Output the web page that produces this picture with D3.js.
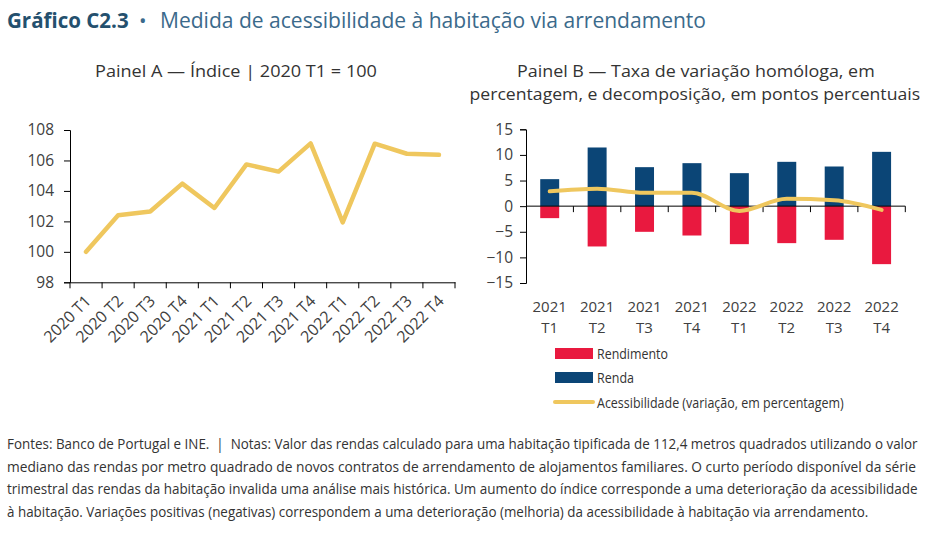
<!DOCTYPE html>
<html lang="pt">
<head>
<meta charset="utf-8">
<title>Gráfico C2.3</title>
<script src="https://cdn.jsdelivr.net/npm/d3@7"></script>
<style>
body { margin: 0; background: #fff; }
svg { display: block; font-family: "Open Sans", sans-serif; }
</style>
</head>
<body>
<script>
// dados
var trimA = ["2020 T1", "2020 T2", "2020 T3", "2020 T4", "2021 T1", "2021 T2",
             "2021 T3", "2021 T4", "2022 T1", "2022 T2", "2022 T3", "2022 T4"];
var indice = [100, 102.4, 102.65, 104.48, 102.88, 105.74, 105.27, 107.12, 101.93, 107.1, 106.44, 106.37];

var trimB = ["2021 T1", "2021 T2", "2021 T3", "2021 T4", "2022 T1", "2022 T2", "2022 T3", "2022 T4"];
var renda = [5.27, 11.45, 7.61, 8.39, 6.44, 8.65, 7.74, 10.6];
var rendimento = [-2.34, -7.87, -5.01, -5.73, -7.42, -7.22, -6.57, -11.32];
var acess = [2.9, 3.4, 2.6, 2.62, -0.95, 1.43, 1.17, -0.72];

var ticksA = [98, 100, 102, 104, 106, 108];
var ticksB = [-15, -10, -5, 0, 5, 10, 15];

var footnote = [
  "Fontes: Banco de Portugal e INE.  |  Notas: Valor das rendas calculado para uma habitação tipificada de 112,4 metros quadrados utilizando o valor",
  "mediano das rendas por metro quadrado de novos contratos de arrendamento de alojamentos familiares. O curto período disponível da série",
  "trimestral das rendas da habitação invalida uma análise mais histórica. Um aumento do índice corresponde a uma deterioração da acessibilidade",
  "à habitação. Variações positivas (negativas) correspondem a uma deterioração (melhoria) da acessibilidade à habitação via arrendamento."
];

var amarelo = "#efc75e", azul = "#0b4576", vermelho = "#e9193f";
var cinza = "#404040";

var svg = d3.select("body").append("svg")
  .attr("width", 930)
  .attr("height", 540);

// texto "condensado": escala horizontal para caber na largura pedida
// anchor: "start" (x = esquerda) ou "middle" (x = centro)
function condText(x, y, size, w, txt, anchor) {
  var g = svg.append("g");
  var t = g.append("text")
    .attr("x", 0).attr("y", 0)
    .attr("font-size", size + "px")
    .attr("fill", "#333")
    .attr("xml:space", "preserve")
    .text(txt);
  var nat = t.node().getComputedTextLength();
  var sx = w / nat;
  var x0 = anchor === "middle" ? x - w / 2 : x;
  g.attr("transform", "translate(" + x0 + "," + y + ") scale(" + sx + ",1)");
  return t;
}

// titulo
svg.append("text").attr("x", 7).attr("y", 28).attr("font-size", "20.5px")
  .attr("font-weight", "bold").attr("fill", "#24506e").text("Gráfico C2.3");
svg.append("text").attr("x", 139).attr("y", 28).attr("font-size", "20px")
  .attr("fill", "#3b6a8b").text("•");
svg.append("text").attr("x", 160).attr("y", 28).attr("font-size", "21px")
  .attr("fill", "#3b6a8b")
  .attr("textLength", 546).attr("lengthAdjust", "spacingAndGlyphs")
  .text("Medida de acessibilidade à habitação via arrendamento");

// titulos dos paineis
condText(236, 77, 17, 282, "Painel A — Índice | 2020 T1 = 100", "middle");
condText(696, 77, 17, 358, "Painel B — Taxa de variação homóloga, em", "middle");
condText(695, 100, 17, 451, "percentagem, e decomposição, em pontos percentuais", "middle");

// PAINEL A
var xA = d3.scaleBand().domain(trimA).range([70, 455]);
var yA = d3.scaleLinear().domain([98, 108]).range([282.3, 130]);

var gA = svg.append("g");
gA.append("g")
  .attr("transform", "translate(70,0)")
  .call(d3.axisLeft(yA).tickValues(ticksA).tickSize(6).tickPadding(10).tickFormat(d3.format("d")))
  .call(function(g) {
    g.select(".domain").attr("stroke", "#000");
    g.selectAll(".tick line").attr("stroke", "#000");
    g.selectAll("text").attr("font-size", "15.5px").attr("fill", cinza).attr("font-family", "Open Sans");
  });

var axA = gA.append("g")
  .attr("transform", "translate(0,282.3)")
  .call(d3.axisBottom(xA).tickSize(0).tickFormat(""));
axA.select(".domain").attr("stroke", "#000");
axA.selectAll(".tick").remove();

// marcas entre trimestres
gA.selectAll("line.sep")
  .data(trimA.concat(["fim"]))
  .enter().append("line")
  .attr("class", "sep")
  .attr("x1", function(d, i) { return 70 + i * xA.step(); })
  .attr("x2", function(d, i) { return 70 + i * xA.step(); })
  .attr("y1", 282.3).attr("y2", 288.3)
  .attr("stroke", "#000");

gA.selectAll("text.xl")
  .data(trimA)
  .enter().append("text")
  .attr("class", "xl")
  .attr("text-anchor", "end")
  .attr("font-size", "16px")
  .attr("fill", cinza)
  .attr("transform", function(d) {
    return "translate(" + (xA(d) + xA.bandwidth() / 2 + 6) + ",302) rotate(-45)";
  })
  .text(function(d) { return d; });

var lineA = d3.line()
  .x(function(d, i) { return xA(trimA[i]) + xA.bandwidth() / 2; })
  .y(function(d) { return yA(d); });

gA.append("path")
  .datum(indice)
  .attr("d", lineA)
  .attr("fill", "none")
  .attr("stroke", amarelo)
  .attr("stroke-width", 4.5)
  .attr("stroke-linejoin", "round")
  .attr("stroke-linecap", "round");

// PAINEL B
var xB = d3.scaleBand().domain(trimB).range([526, 905.3]).paddingInner(0.6).paddingOuter(0.3);
var yB = d3.scaleLinear().domain([-15, 15]).range([283, 129.3]);
var stepB = (905.3 - 526) / trimB.length;

var gB = svg.append("g");

gB.selectAll("rect.renda")
  .data(renda)
  .enter().append("rect")
  .attr("class", "renda")
  .attr("x", function(d, i) { return xB(trimB[i]); })
  .attr("width", xB.bandwidth())
  .attr("y", function(d) { return yB(d); })
  .attr("height", function(d) { return yB(0) - yB(d); })
  .attr("fill", azul);

gB.selectAll("rect.rend")
  .data(rendimento)
  .enter().append("rect")
  .attr("class", "rend")
  .attr("x", function(d, i) { return xB(trimB[i]); })
  .attr("width", xB.bandwidth())
  .attr("y", yB(0))
  .attr("height", function(d) { return yB(d) - yB(0); })
  .attr("fill", vermelho);

gB.append("g")
  .attr("transform", "translate(526,0)")
  .call(d3.axisLeft(yB).tickValues(ticksB).tickSize(6).tickPadding(7))
  .call(function(g) {
    g.select(".domain").attr("stroke", "#000");
    g.selectAll(".tick line").attr("stroke", "#000");
    g.selectAll("text").attr("font-size", "15.5px").attr("fill", cinza).attr("font-family", "Open Sans");
  });

gB.append("line")
  .attr("x1", 526).attr("x2", 905.3)
  .attr("y1", yB(0)).attr("y2", yB(0))
  .attr("stroke", "#000");

gB.selectAll("line.sep")
  .data(trimB)
  .enter().append("line")
  .attr("class", "sep")
  .attr("x1", function(d, i) { return 526 + (i + 1) * stepB; })
  .attr("x2", function(d, i) { return 526 + (i + 1) * stepB; })
  .attr("y1", yB(0)).attr("y2", yB(0) + 6)
  .attr("stroke", "#000");

var lblB = gB.selectAll("text.xl")
  .data(trimB)
  .enter().append("text")
  .attr("class", "xl")
  .attr("text-anchor", "middle")
  .attr("font-size", "15px")
  .attr("fill", cinza)
  .attr("x", function(d) { return xB(d) + xB.bandwidth() / 2; })
  .attr("y", 312);
lblB.append("tspan").text(function(d) { return d.split(" ")[0]; });
lblB.append("tspan")
  .attr("x", function(d) { return xB(d) + xB.bandwidth() / 2; })
  .attr("dy", 21)
  .text(function(d) { return d.split(" ")[1]; });

var lineB = d3.line()
  .x(function(d, i) { return xB(trimB[i]) + xB.bandwidth() / 2; })
  .y(function(d) { return yB(d); })
  .curve(d3.curveMonotoneX);

gB.append("path")
  .datum(acess)
  .attr("d", lineB)
  .attr("fill", "none")
  .attr("stroke", amarelo)
  .attr("stroke-width", 4)
  .attr("stroke-linecap", "round");

// legenda
var leg = [
  { nome: "Rendimento", cor: vermelho, tipo: "rect", y: 348, w: 71 },
  { nome: "Renda", cor: azul, tipo: "rect", y: 372, w: 37 },
  { nome: "Acessibilidade (variação, em percentagem)", cor: amarelo, tipo: "line", y: 397, w: 247 }
];
var gL = svg.append("g");
leg.forEach(function(d) {
  if (d.tipo === "rect") {
    gL.append("rect").attr("x", 555).attr("y", d.y).attr("width", 38).attr("height", 11).attr("fill", d.cor);
  } else {
    gL.append("line").attr("x1", 555).attr("x2", 593).attr("y1", d.y + 5).attr("y2", d.y + 5)
      .attr("stroke", d.cor).attr("stroke-width", 4).attr("stroke-linecap", "round");
  }
  condText(597, d.y + 11, 15, d.w, d.nome, "start");
});

// notas
var larguras = [911, 910, 911, 862];
footnote.forEach(function(d, i) {
  condText(7, 449 + i * 22.7, 15, larguras[i], d, "start");
});
</script>
</body>
</html>
